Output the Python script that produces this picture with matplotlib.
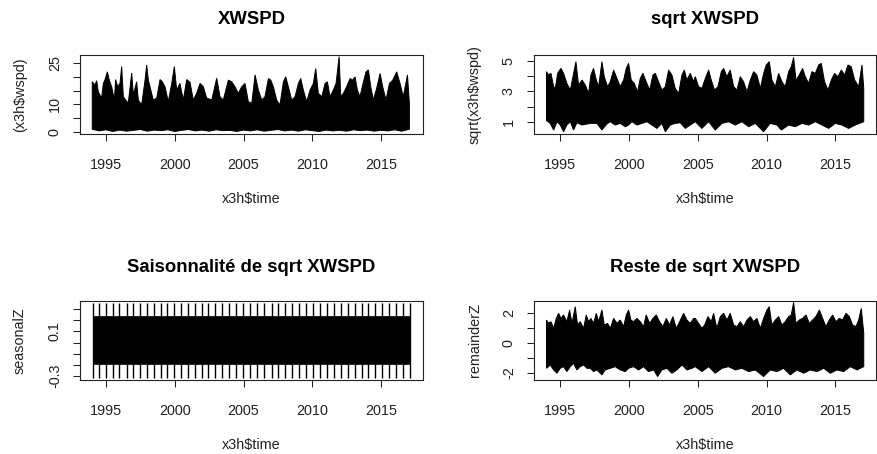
import matplotlib
matplotlib.use('Agg')
import matplotlib.pyplot as plt
import numpy as np

#FONTS
plt.rcParams['font.family'] = ['Liberation Sans', 'DejaVu Sans']

#DATA
#wind speed, upper edge of the band
wspd_t = np.array([1994.00, 1994.20, 1994.32, 1994.44, 1994.56, 1994.68, 1994.81, 1994.93,
                   1995.10, 1995.24, 1995.41, 1995.61, 1995.70, 1995.85, 1996.02, 1996.14,
                   1996.26, 1996.43, 1996.62, 1996.87, 1996.99, 1997.23, 1997.35, 1997.59,
                   1997.84, 1997.96, 1998.08, 1998.20, 1998.44, 1998.69, 1998.93, 1999.10,
                   1999.29, 1999.53, 1999.78, 1999.97, 2000.14, 2000.38, 2000.62, 2000.87,
                   2001.11, 2001.35, 2001.59, 2001.84, 2002.08, 2002.32, 2002.69, 2003.05,
                   2003.29, 2003.53, 2003.90, 2004.14, 2004.38, 2004.62, 2004.87, 2005.11,
                   2005.35, 2005.60, 2005.84, 2006.08, 2006.32, 2006.56, 2006.81, 2006.98,
                   2007.17, 2007.41, 2007.65, 2007.90, 2008.07, 2008.26, 2008.50, 2008.75,
                   2008.99, 2009.16, 2009.35, 2009.59, 2009.84, 2010.08, 2010.25, 2010.44,
                   2010.69, 2010.93, 2011.10, 2011.29, 2011.53, 2011.73, 2011.95, 2012.07,
                   2012.26, 2012.50, 2012.75, 2012.94, 2013.11, 2013.28, 2013.47, 2013.72,
                   2013.91, 2014.08, 2014.25, 2014.44, 2014.68, 2014.93, 2015.12, 2015.36,
                   2015.61, 2015.85, 2016.14, 2016.38, 2016.62, 2016.92, 2017.06])
wspd_hi = np.array([18.2, 17.0, 18.6, 14.6, 13.4, 12.3, 17.6, 19.0,
                    21.8, 18.8, 16.4, 11.6, 19.0, 16.4, 17.7, 23.7,
                    12.8, 11.6, 10.5, 21.4, 13.4, 18.2, 11.6, 9.8,
                    18.8, 24.3, 18.8, 16.4, 11.6, 12.3, 19.0, 18.2,
                    16.4, 11.0, 17.6, 23.7, 15.2, 17.6, 11.6, 19.0,
                    18.0, 11.6, 14.0, 17.6, 16.4, 12.3, 11.6, 19.5,
                    12.8, 11.6, 18.8, 18.2, 16.4, 14.0, 16.4, 17.6,
                    11.0, 10.4, 20.7, 15.2, 11.6, 12.8, 19.4, 18.8,
                    16.4, 11.6, 9.8, 18.2, 20.0, 16.4, 11.6, 12.8,
                    17.6, 19.4, 15.2, 11.0, 15.2, 17.6, 23.0, 14.0,
                    12.8, 17.6, 18.2, 12.8, 15.2, 17.6, 27.3, 12.8,
                    14.0, 16.4, 19.4, 18.8, 20.0, 15.2, 12.8, 18.2,
                    21.8, 22.5, 16.4, 11.6, 15.8, 21.2, 16.4, 11.6,
                    17.6, 18.8, 21.8, 17.6, 12.8, 20.7, 10.4])
#wind speed, lower edge of the band
wspd_lo_t = np.array([1994.0, 1994.5, 1995.0, 1995.5, 1996.0, 1996.5, 1997.0, 1997.5,
                      1998.0, 1998.5, 1999.0, 1999.5, 2000.0, 2000.5, 2001.0, 2001.5,
                      2002.0, 2002.5, 2003.0, 2003.5, 2004.0, 2004.5, 2005.0, 2005.5,
                      2006.0, 2006.5, 2007.0, 2007.5, 2008.0, 2008.5, 2009.0, 2009.5,
                      2010.0, 2010.5, 2011.0, 2011.5, 2012.0, 2012.5, 2013.0, 2013.5,
                      2014.0, 2014.5, 2015.0, 2015.5, 2016.0, 2016.5, 2017.06])
wspd_lo = np.array([1.0, 0.4, 0.8, 0.2, 0.7, 0.3, 0.6, 0.9,
                    0.3, 0.7, 0.5, 0.8, 0.2, 0.6, 0.9, 0.4,
                    0.7, 0.3, 0.8, 0.5, 0.6, 0.2, 0.7, 0.4,
                    0.8, 0.3, 0.6, 0.9, 0.4, 0.7, 0.3, 0.8,
                    0.5, 0.2, 0.7, 0.4, 0.6, 0.3, 0.8, 0.5,
                    0.7, 0.3, 0.6, 0.4, 0.8, 0.3, 1.0])

#sqrt of wind speed
sq_t = np.array([1994.00, 1994.15, 1994.32, 1994.52, 1994.64, 1994.81, 1995.05, 1995.24,
                 1995.48, 1995.73, 1995.90, 1996.14, 1996.33, 1996.58, 1996.82, 1997.06,
                 1997.23, 1997.42, 1997.62, 1997.79, 1998.03, 1998.20, 1998.44, 1998.64,
                 1998.88, 1999.12, 1999.36, 1999.61, 1999.80, 1999.97, 2000.16, 2000.38,
                 2000.62, 2000.82, 2001.01, 2001.25, 2001.50, 2001.74, 2001.91, 2002.15,
                 2002.39, 2002.64, 2002.88, 2003.12, 2003.36, 2003.61, 2003.85, 2004.02,
                 2004.21, 2004.45, 2004.70, 2004.82, 2005.06, 2005.30, 2005.55, 2005.79,
                 2005.98, 2006.22, 2006.47, 2006.71, 2006.88, 2007.12, 2007.36, 2007.61,
                 2007.85, 2008.09, 2008.33, 2008.58, 2008.82, 2009.06, 2009.30, 2009.55,
                 2009.79, 2009.98, 2010.20, 2010.39, 2010.64, 2010.88, 2011.12, 2011.36,
                 2011.61, 2011.80, 2011.97, 2012.14, 2012.38, 2012.62, 2012.82, 2013.06,
                 2013.30, 2013.55, 2013.79, 2013.98, 2014.22, 2014.47, 2014.71, 2014.95,
                 2015.19, 2015.44, 2015.68, 2015.92, 2016.16, 2016.41, 2016.70, 2016.94,
                 2017.07])
sq_hi = np.array([4.30, 4.08, 4.19, 3.31, 3.20, 4.19, 4.52, 4.19,
                  3.53, 3.09, 3.86, 4.96, 3.42, 3.75, 3.42, 2.87,
                  4.08, 4.52, 3.75, 3.31, 4.96, 3.97, 3.31, 3.64,
                  4.41, 3.86, 3.31, 3.75, 4.52, 4.85, 3.75, 3.53,
                  2.98, 3.86, 4.19, 3.64, 3.09, 4.08, 4.19, 3.64,
                  3.09, 3.31, 4.41, 4.08, 3.20, 2.87, 4.08, 4.41,
                  3.75, 4.19, 3.64, 3.97, 3.31, 3.20, 3.86, 4.41,
                  3.75, 3.09, 3.31, 4.30, 4.52, 3.97, 4.41, 3.31,
                  3.09, 3.97, 3.64, 2.98, 3.75, 4.30, 4.08, 3.20,
                  4.19, 4.74, 4.96, 3.75, 3.31, 4.19, 3.64, 3.31,
                  4.30, 4.63, 5.24, 3.75, 4.08, 4.52, 3.97, 3.53,
                  4.30, 4.19, 4.74, 4.85, 3.64, 3.09, 3.75, 4.19,
                  3.97, 4.41, 4.08, 4.74, 4.63, 3.75, 3.31, 4.74,
                  3.20])
sq_lo_t = np.array([1994.00, 1994.27, 1994.52, 1994.76, 1995.00, 1995.24, 1995.48, 1995.73,
                    1995.97, 1996.21, 1996.58, 1996.94, 1997.30, 1997.67, 1998.03, 1998.39,
                    1998.64, 1999.00, 1999.36, 1999.73, 1999.97, 2000.21, 2000.58, 2000.94,
                    2001.30, 2001.67, 2002.03, 2002.39, 2002.64, 2003.00, 2003.36, 2003.73,
                    2004.09, 2004.45, 2004.82, 2005.30, 2005.79, 2006.27, 2006.76, 2007.24,
                    2007.73, 2008.21, 2008.70, 2009.18, 2009.79, 2010.27, 2010.76, 2011.07,
                    2011.61, 2012.09, 2012.58, 2013.06, 2013.55, 2014.03, 2014.52, 2015.00,
                    2015.48, 2015.97, 2016.45, 2017.07])
sq_lo = np.array([1.07, 0.89, 0.45, 1.00, 0.78, 0.34, 0.78, 1.00,
                  0.45, 0.93, 0.78, 0.85, 0.89, 0.89, 0.45, 0.85,
                  1.00, 0.78, 0.89, 0.67, 0.78, 1.00, 0.78, 0.89,
                  1.00, 0.78, 0.56, 0.89, 0.34, 0.78, 0.89, 0.93,
                  0.56, 0.78, 1.00, 0.56, 1.00, 0.45, 0.89, 1.00,
                  0.78, 1.00, 0.67, 0.89, 0.34, 0.89, 0.78, 0.45,
                  0.78, 0.67, 0.89, 0.78, 1.00, 0.78, 0.56, 0.89,
                  0.78, 0.56, 0.78, 1.00])

#seasonal component: half-yearly spikes on a steady body
seas_spike_t = np.array([1994.08, 1994.52, 1995.00, 1995.48, 1995.97, 1996.50, 1996.99, 1997.47,
                         1998.00, 1998.49, 1998.98, 1999.46, 1999.95, 2000.43, 2000.99, 2001.47,
                         2001.96, 2002.44, 2002.93, 2003.46, 2003.95, 2004.43, 2004.96, 2005.47,
                         2006.01, 2006.49, 2007.05, 2007.53, 2008.02, 2008.55, 2009.06, 2009.55,
                         2010.08, 2010.56, 2011.05, 2011.58, 2012.07, 2012.58, 2013.11, 2013.59,
                         2014.08, 2014.56, 2015.05, 2015.58, 2016.09, 2016.62, 2017.07])
seas_body_t = np.array([1994.02, 2017.10])
seas_body_hi = np.array([0.24, 0.24])
seas_body_lo = np.array([-0.19, -0.19])
seas_peak = 0.355
seas_trough = -0.32

#remainder
rem_t = np.array([1994.00, 1994.15, 1994.32, 1994.52, 1994.71, 1994.88, 1995.05, 1995.24,
                  1995.48, 1995.68, 1995.85, 1996.09, 1996.26, 1996.45, 1996.70, 1996.89,
                  1997.06, 1997.23, 1997.42, 1997.62, 1997.79, 1998.03, 1998.20, 1998.44,
                  1998.64, 1998.88, 1999.12, 1999.36, 1999.61, 1999.80, 1999.97, 2000.14,
                  2000.33, 2000.58, 2000.82, 2001.06, 2001.25, 2001.50, 2001.74, 2001.98,
                  2002.22, 2002.47, 2002.71, 2002.95, 2003.19, 2003.44, 2003.68, 2003.97,
                  2004.21, 2004.45, 2004.70, 2004.82, 2005.06, 2005.30, 2005.50, 2005.74,
                  2005.98, 2006.15, 2006.39, 2006.64, 2006.88, 2007.12, 2007.36, 2007.61,
                  2007.85, 2008.09, 2008.33, 2008.58, 2008.82, 2009.06, 2009.30, 2009.55,
                  2009.79, 2010.03, 2010.20, 2010.39, 2010.64, 2010.88, 2011.12, 2011.36,
                  2011.61, 2011.80, 2011.97, 2012.14, 2012.38, 2012.62, 2012.87, 2013.11,
                  2013.35, 2013.59, 2013.84, 2014.08, 2014.32, 2014.56, 2014.81, 2015.05,
                  2015.29, 2015.53, 2015.78, 2016.02, 2016.26, 2016.50, 2016.70, 2016.89,
                  2017.07])
rem_hi = np.array([1.53, 1.31, 1.42, 0.98, 1.64, 1.98, 1.64, 1.87,
                   1.42, 2.20, 1.31, 2.42, 1.20, 1.42, 0.98, 1.87,
                   1.42, 1.64, 1.31, 1.98, 1.42, 2.20, 1.20, 1.31,
                   0.98, 1.64, 1.31, 1.53, 1.09, 1.87, 2.20, 1.53,
                   1.42, 1.64, 1.42, 1.09, 1.87, 1.31, 1.64, 1.87,
                   1.42, 1.09, 1.64, 1.20, 1.76, 0.98, 1.42, 1.98,
                   1.53, 1.31, 1.64, 1.64, 1.31, 0.98, 1.20, 1.76,
                   1.42, 1.98, 0.98, 1.76, 1.98, 1.53, 1.98, 1.20,
                   1.09, 1.42, 1.09, 1.53, 1.76, 1.42, 1.64, 0.98,
                   1.64, 2.20, 2.42, 1.20, 1.53, 1.76, 1.20, 1.42,
                   1.76, 1.87, 2.71, 1.31, 1.53, 1.64, 1.87, 1.31,
                   1.53, 1.76, 2.20, 1.64, 1.09, 1.53, 1.87, 1.42,
                   1.64, 1.53, 1.98, 1.76, 1.20, 1.09, 1.53, 2.31,
                   0.65])
rem_lo_t = np.array([1994.00, 1994.27, 1994.52, 1994.76, 1995.00, 1995.24, 1995.48, 1995.73,
                     1995.97, 1996.21, 1996.45, 1996.70, 1996.94, 1997.18, 1997.42, 1997.67,
                     1998.03, 1998.27, 1998.64, 1999.00, 1999.36, 1999.73, 1999.97, 2000.33,
                     2000.70, 2001.06, 2001.42, 2001.79, 2002.08, 2002.39, 2002.76, 2003.12,
                     2003.48, 2003.85, 2004.21, 2004.58, 2004.82, 2005.30, 2005.79, 2006.27,
                     2006.76, 2007.24, 2007.73, 2008.21, 2008.70, 2009.18, 2009.79, 2010.27,
                     2010.76, 2011.24, 2011.73, 2012.21, 2012.70, 2013.18, 2013.67, 2014.15,
                     2014.64, 2015.12, 2015.61, 2016.09, 2016.58, 2017.07])
rem_lo = np.array([-1.69, -1.47, -1.80, -2.02, -1.69, -1.58, -1.91, -1.58,
                   -1.36, -1.80, -1.58, -1.47, -1.69, -1.69, -1.91, -1.80,
                   -2.13, -1.80, -1.69, -1.58, -1.80, -1.91, -1.69, -1.58,
                   -1.80, -1.58, -1.91, -1.80, -2.24, -1.80, -1.69, -2.02,
                   -1.80, -1.47, -1.80, -1.69, -1.58, -1.91, -1.58, -2.02,
                   -1.69, -1.58, -1.80, -1.69, -1.91, -1.80, -2.24, -1.80,
                   -1.91, -1.69, -2.13, -1.80, -2.02, -1.80, -1.91, -1.69,
                   -2.02, -1.80, -1.91, -1.58, -1.80, -1.58])

year_ticks = [1995, 2000, 2005, 2010, 2015]

#FUNCTIONS
W, H = 877, 454

def add_box(fig, x0, y0, x1, y1):
    #axes placed by pixel corners of the plot box
    return fig.add_axes([x0 / W, 1 - y1 / H, (x1 - x0) / W, (y1 - y0) / H])

def put_text(fig, x, y, s, **kw):
    fig.text(x / W, 1 - y / H, s, ha='center', va='center', **kw)

def draw_band(ax, t_hi, hi, t_lo, lo):
    xs = np.concatenate([t_hi, t_lo[::-1]])
    ys = np.concatenate([hi, lo[::-1]])
    ax.fill(xs, ys, color='black', lw=0.7)

def style_axes(ax, xlim, ylim, yticks, ylabels):
    ax.set_xlim(xlim)
    ax.set_ylim(ylim)
    ax.set_xticks(year_ticks)
    ax.set_xticklabels([str(y) for y in year_ticks])
    ax.set_yticks(yticks)
    ax.set_yticklabels(ylabels, rotation=90, va='center')
    for s in ax.spines.values():
        s.set_linewidth(0.8)
        s.set_color('#222222')
    ax.tick_params(axis='both', length=5, width=0.75, color='#222222',
                   labelsize=10.4, labelcolor='#222222')
    ax.tick_params(axis='x', pad=12)
    ax.tick_params(axis='y', pad=8)

#MAIN
if __name__ == "__main__":
    fig = plt.figure(figsize=(W / 100, H / 100), dpi=100)

    xlim_left = (1993.11, 2018.05)
    xlim_right = (1993.09, 2017.96)

    #raw wind speed
    ax1 = add_box(fig, 80, 55, 423, 134)
    draw_band(ax1, wspd_t, wspd_hi, wspd_lo_t, wspd_lo)
    style_axes(ax1, xlim_left, (-0.72, 27.9), [0, 5, 10, 15, 20, 25],
               ['0', '', '10', '', '', '25'])

    #sqrt wind speed
    ax2 = add_box(fig, 534, 55, 876, 134)
    draw_band(ax2, sq_t, sq_hi, sq_lo_t, sq_lo)
    style_axes(ax2, xlim_right, (0.19, 5.40), [1, 2, 3, 4, 5],
               ['1', '', '3', '', '5'])

    #seasonal part
    ax3 = add_box(fig, 80, 301, 423, 380)
    ax3.fill_between(seas_body_t, seas_body_lo, seas_body_hi, color='black', lw=0.5)
    ax3.vlines(seas_spike_t, 0, seas_peak, color='black', lw=1.0)
    ax3.vlines(seas_spike_t, seas_trough, 0, color='black', lw=1.0)
    style_axes(ax3, xlim_left, (-0.336, 0.372), [-0.3, -0.2, -0.1, 0.0, 0.1, 0.2, 0.3],
               ['-0.3', '', '', '', '0.1', '', ''])

    #remainder
    ax4 = add_box(fig, 534, 301, 876, 380)
    draw_band(ax4, rem_t, rem_hi, rem_lo_t, rem_lo)
    style_axes(ax4, xlim_right, (-2.47, 2.8), [-2, -1, 0, 1, 2],
               ['-2', '', '0', '', '2'])

    #titles and axis labels
    put_text(fig, 251.5, 20, 'XWSPD', fontsize=13.3, fontweight='bold')
    put_text(fig, 705, 20, 'sqrt XWSPD', fontsize=13.3, fontweight='bold')
    put_text(fig, 251.5, 267, 'Saisonnalité de sqrt XWSPD', fontsize=13.3, fontweight='bold')
    put_text(fig, 705, 267, 'Reste de sqrt XWSPD', fontsize=13.3, fontweight='bold')

    for xc, yc in [(251.5, 199), (705, 199), (251.5, 445), (705, 445)]:
        put_text(fig, xc, yc, 'x3h$time', fontsize=10.4, color='#222222')

    put_text(fig, 20, 94.5, '(x3h$wspd)', fontsize=10.4, rotation=90, color='#222222')
    put_text(fig, 475, 94.5, 'sqrt(x3h$wspd)', fontsize=10.4, rotation=90, color='#222222')
    put_text(fig, 20, 340.5, 'seasonalZ', fontsize=10.4, rotation=90, color='#222222')
    put_text(fig, 475, 340.5, 'remainderZ', fontsize=10.4, rotation=90, color='#222222')

    fig.savefig('out.png', dpi=100)
